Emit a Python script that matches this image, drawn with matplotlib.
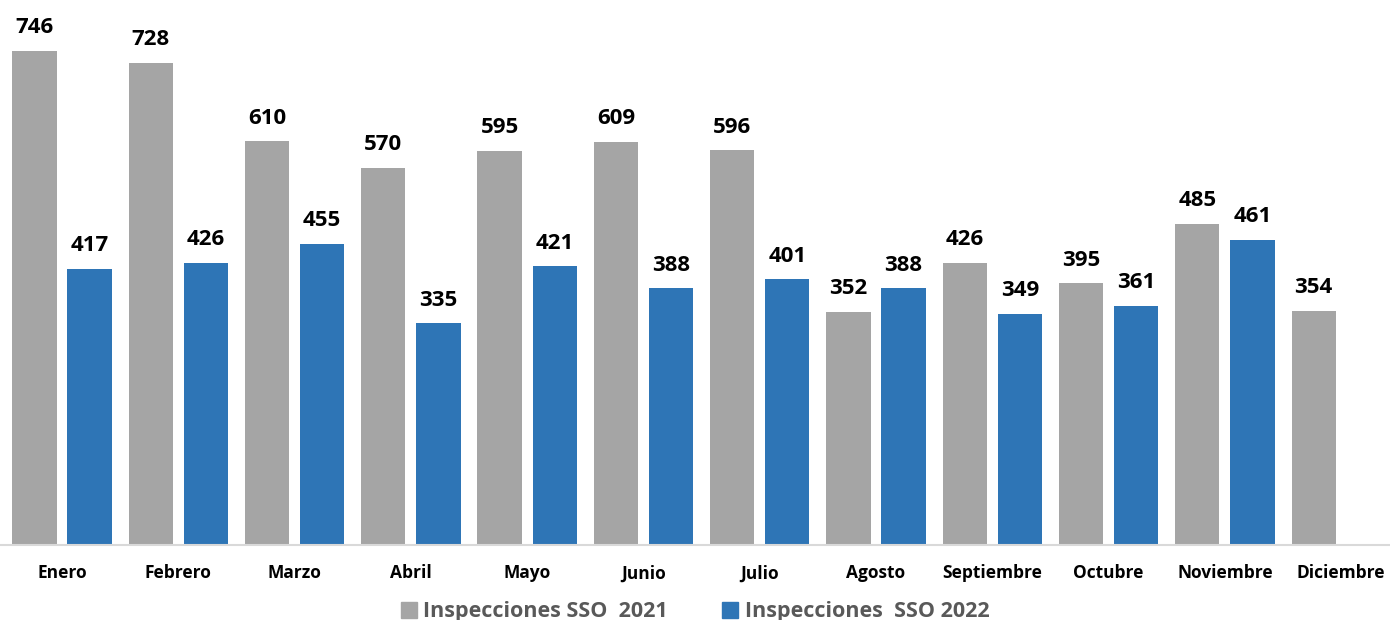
import numpy as np
import matplotlib
matplotlib.use("Agg")
from matplotlib import pyplot as plt
from matplotlib.patches import Patch

# data
meses = ["Enero", "Febrero", "Marzo", "Abril", "Mayo", "Junio", "Julio",
         "Agosto", "Septiembre", "Octubre", "Noviembre", "Diciembre"]
sso_2021 = [746, 728, 610, 570, 595, 609, 596, 352, 426, 395, 485, 354]
sso_2022 = [417, 426, 455, 335, 421, 388, 401, 388, 349, 361, 461]
leyenda = ["Inspecciones SSO  2021", "Inspecciones  SSO 2022"]

GRIS = "#A5A5A5"
AZUL = "#2E75B6"
BAR_W = 0.38
OFF = 0.237

plt.rcParams['font.family'] = ['Open Sans', 'DejaVu Sans']

fig = plt.figure(figsize=(13.9, 6.2), dpi=100)
ax = fig.add_axes([0, 0.121, 1, 0.879])

x = np.arange(len(meses))
b1 = ax.bar(x - OFF, sso_2021, BAR_W, color=GRIS)
x2 = np.arange(len(sso_2022))
b2 = ax.bar(x2 + OFF, sso_2022, BAR_W, color=AZUL)

# value labels above bars
for bars in (b1, b2):
    for r in bars:
        ax.annotate(str(int(r.get_height())),
                    (r.get_x() + r.get_width() / 2, r.get_height()),
                    xytext=(0, 9), textcoords="offset points",
                    ha="center", va="bottom", fontsize=16,
                    fontweight="bold", color="black")

ax.set_xlim(-0.533, 11.42)
ax.set_ylim(0, 823)
ax.set_xticks(x)
ax.set_xticklabels(meses, fontsize=12.5, fontweight="bold")
ax.tick_params(axis="x", length=0, pad=14)
ax.set_yticks([])
for s in ["top", "right", "left"]:
    ax.spines[s].set_visible(False)
ax.spines["bottom"].set_color("#D9D9D9")
ax.spines["bottom"].set_linewidth(1.5)

handles = [Patch(color=GRIS), Patch(color=AZUL)]
leg = fig.legend(handles, leyenda, loc="lower center", ncol=2,
                 bbox_to_anchor=(0.5, -0.035), frameon=False,
                 handlelength=0.75, handleheight=0.75, handletextpad=0.3,
                 columnspacing=2.5,
                 prop={"size": 15.5, "weight": "bold"})
for t in leg.get_texts():
    t.set_color("#595959")

fig.savefig("out.png", dpi=100)
